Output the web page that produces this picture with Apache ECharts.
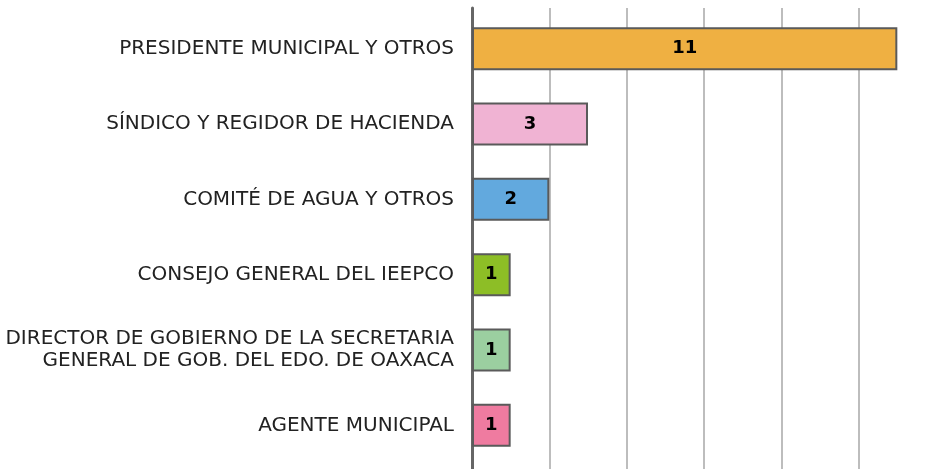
<!DOCTYPE html>
<html><head><meta charset="utf-8">
<script src="https://cdn.jsdelivr.net/npm/echarts@6/dist/echarts.min.js"></script>
<style>html,body{margin:0;padding:0;background:#fff;overflow:hidden}#c{width:931px;height:469px}</style>
</head><body><div id="c"></div>
<script>
const categories = [
  "PRESIDENTE MUNICIPAL Y OTROS",
  "SÍNDICO Y REGIDOR DE HACIENDA",
  "COMITÉ DE AGUA Y OTROS",
  "CONSEJO GENERAL DEL IEEPCO",
  "DIRECTOR DE GOBIERNO DE LA SECRETARIA\nGENERAL DE GOB. DEL EDO. DE OAXACA",
  "AGENTE MUNICIPAL"
];
const values = [11, 3, 2, 1, 1, 1];
const colors = ["#EFB042", "#F0B3D3", "#62A9DE", "#8DBE26", "#9BCFA0", "#EF7BA0"];

const chart = echarts.init(document.getElementById('c'), null, {renderer: 'canvas'});
const L = 472, W = 464;
chart.setOption({
  animation: false,
  grid: [
    {left: L, width: W, top: 11, height: 452, containLabel: false, outerBoundsMode: 'none'},
    {left: L, width: W, top: 8, height: 461, containLabel: false, outerBoundsMode: 'none'}
  ],
  xAxis: [
    {gridIndex: 0, type: 'value', min: 0, max: 12, interval: 2, show: false},
    {gridIndex: 1, type: 'value', min: 0, max: 12, interval: 2,
     axisLine: {show: false}, axisTick: {show: false}, axisLabel: {show: false},
     splitLine: {show: true, lineStyle: {color: '#BDBDBD', width: 2}}}
  ],
  yAxis: [
    {gridIndex: 0, type: 'category', data: categories, inverse: true,
     axisLine: {show: false}, axisTick: {show: false},
     axisLabel: {margin: 18, color: '#222222', fontFamily: 'DejaVu Sans', fontSize: 20, lineHeight: 22, align: 'right'}},
    {gridIndex: 1, type: 'category', data: [''],
     axisLine: {show: true, lineStyle: {color: '#666666', width: 3}},
     axisTick: {show: false}, axisLabel: {show: false}, splitLine: {show: false}}
  ],
  series: [{
    type: 'bar', xAxisIndex: 0, yAxisIndex: 0, barWidth: 43,
    data: values.map((v, i) => ({value: v, itemStyle: {color: colors[i]}})),
    itemStyle: {borderColor: '#5a5a5a', borderWidth: 2},
    label: {show: true, position: 'inside', color: '#000', fontWeight: 'bold',
            fontFamily: 'DejaVu Sans', fontSize: 18},
    z: 3
  }]
});
</script></body></html>
